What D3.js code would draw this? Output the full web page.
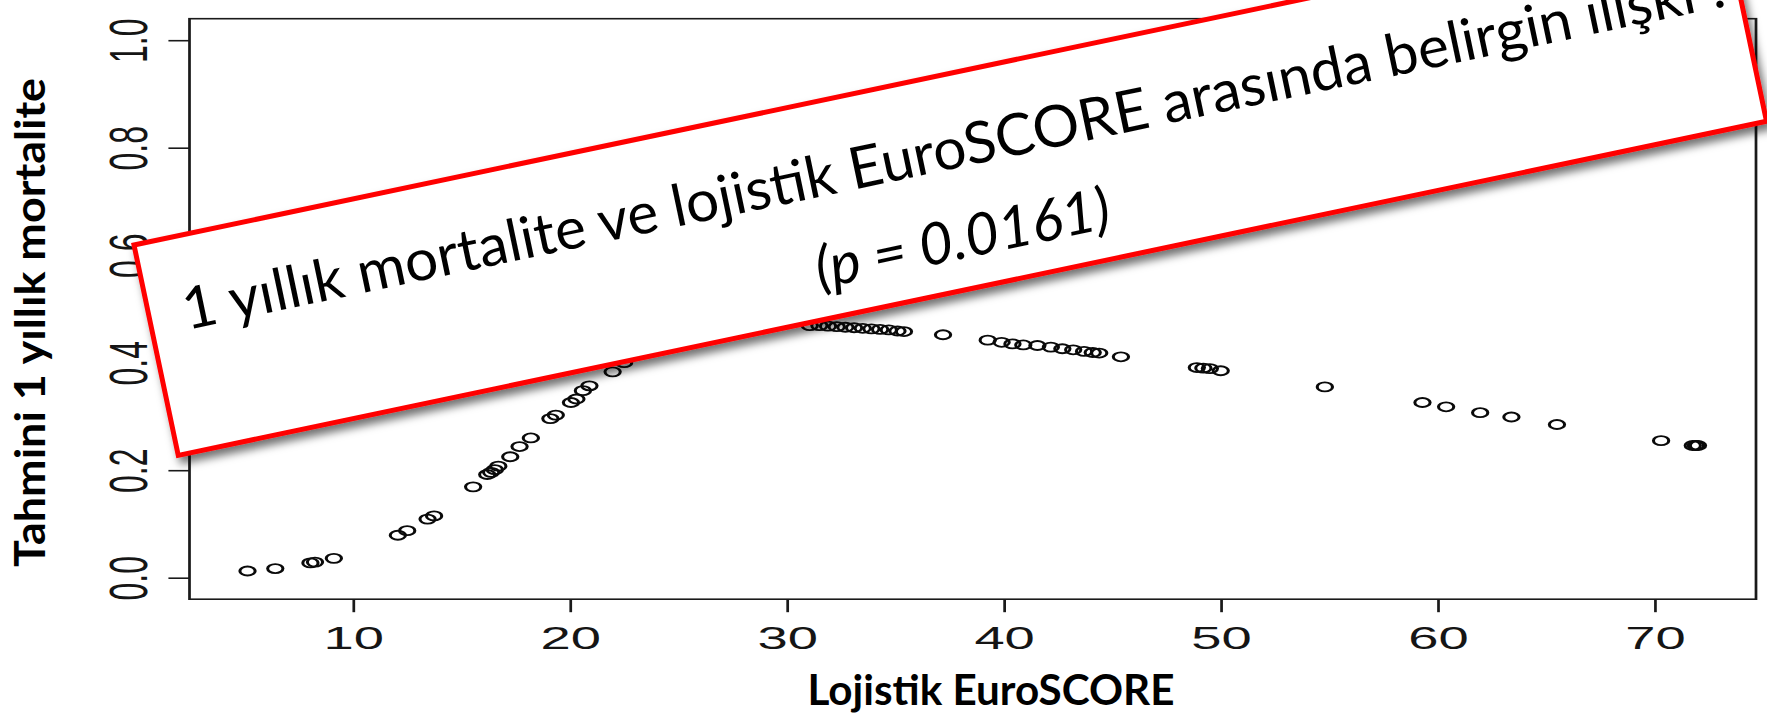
<!DOCTYPE html>
<html>
<head>
  <meta charset="utf-8">
  <title>EuroSCORE</title>
  <script src="https://cdn.jsdelivr.net/npm/d3@7"></script>
  <style>
    body { margin: 0; background: #fff; }
    svg { display: block; }
    .rplot text { font-family: "Liberation Sans", Arial, sans-serif; fill: #151515; }
    .title { font-family: Lato, "Open Sans", sans-serif; font-weight: bold; fill: #000; }
    .note text { font-family: Lato, "Open Sans", sans-serif; fill: #000; }
  </style>
</head>
<body>
<script>

  // Lojistik EuroSCORE vs predicted 1-year mortality
  var euroscore = [5.14, 6.42, 8.04, 8.25, 9.12, 12.07, 12.5, 13.44, 13.74, 15.54, 16.19, 16.37, 16.54, 16.7,
    17.25, 17.68, 18.2, 19.1, 19.35, 20.05, 20.3, 20.6, 20.9, 21.97, 22.5,
    31.06, 31.5, 31.9, 32.3, 32.7, 33.1, 33.5, 33.9, 34.3, 34.7, 35.1, 35.4, 37.2,
    39.26, 39.9, 40.4, 40.9, 41.55, 42.17, 42.7, 43.2, 43.7, 44.1, 44.4, 45.4,
    48.9, 49.2, 49.5, 50.0, 54.8, 59.3, 60.39, 61.96, 63.4, 65.5, 70.3, 71.76, 71.9, 72.0];

  var mortality = [0.0125, 0.017, 0.0275, 0.029, 0.036, 0.079, 0.0875, 0.109, 0.115, 0.169, 0.192, 0.196, 0.201, 0.2075,
    0.225, 0.244, 0.26, 0.296, 0.3025, 0.326, 0.3325, 0.348, 0.357, 0.383, 0.40,
    0.469, 0.469, 0.468, 0.467, 0.466, 0.465, 0.464, 0.463, 0.462, 0.461, 0.459, 0.458, 0.452,
    0.442, 0.438, 0.435, 0.433, 0.432, 0.429, 0.426, 0.424, 0.421, 0.419, 0.418, 0.411,
    0.391, 0.390, 0.389, 0.385, 0.355, 0.326, 0.318, 0.307, 0.299, 0.285, 0.255, 0.246, 0.246, 0.246];

  var xTicks = [10, 20, 30, 40, 50, 60, 70];
  var yTicks = [0, 0.2, 0.4, 0.6, 0.8, 1.0];

  var xTitle = "Lojistik EuroSCORE";
  var yTitle = "Tahmini 1 yıllık mortalite";
  var noteLine1 = "1 yıllık mortalite ve lojistik EuroSCORE arasında belirgin ilişki !";
  var noteLine2 = "(p = 0.0161)";

  var W = 1767, H = 716;
  var SX = 1.7;   // the R figure was stretched sideways when pasted into the slide

  var svg = d3.select("body").append("svg")
      .attr("width", W)
      .attr("height", H);

  // R style axis limits: data range widened by 4% each side
  var xExt = d3.extent(euroscore), xPad = (xExt[1] - xExt[0]) * 0.04;
  var x = d3.scaleLinear()
      .domain([xExt[0] - xPad, xExt[1] + xPad])
      .range([189.5 / SX, 1756 / SX]);

  var y = d3.scaleLinear()
      .domain([-0.04, 1.04])
      .range([599.2, 18.7]);

  var plot = svg.append("g")
      .attr("class", "rplot")
      .attr("transform", "scale(" + SX + ",1)");

  plot.append("rect")
      .attr("x", x.range()[0])
      .attr("y", y.range()[1])
      .attr("width", x.range()[1] - x.range()[0])
      .attr("height", y.range()[0] - y.range()[1])
      .attr("fill", "none")
      .attr("stroke", "#1a1a1a")
      .attr("stroke-width", 1.6);

  var xAxis = d3.axisBottom(x)
      .tickValues(xTicks)
      .tickSize(13)
      .tickSizeOuter(0)
      .tickPadding(14)
      .tickFormat(d3.format("d"));

  plot.append("g")
      .attr("class", "x axis")
      .attr("transform", "translate(0," + y.range()[0] + ")")
      .call(xAxis)
      .call(function (g) { g.select(".domain").remove(); })
      .call(function (g) {
        g.attr("font-family", null).attr("font-size", null);
        g.selectAll("line").attr("stroke", "#1a1a1a").attr("stroke-width", 1.6);
        g.selectAll("text").attr("font-size", 32).attr("fill", "#151515");
      });

  var yAxis = d3.axisLeft(y)
      .tickValues(yTicks)
      .tickSize(12.4)
      .tickSizeOuter(0)
      .tickFormat(d3.format(".1f"));

  plot.append("g")
      .attr("class", "y axis")
      .attr("transform", "translate(" + x.range()[0] + ",0)")
      .call(yAxis)
      .call(function (g) { g.select(".domain").remove(); })
      .call(function (g) {
        g.attr("font-family", null).attr("font-size", null);
        g.selectAll("line").attr("stroke", "#1a1a1a").attr("stroke-width", 1.6);
        g.selectAll("text")
            .attr("font-size", 32)
            .attr("fill", "#151515")
            .attr("text-anchor", "middle")
            .attr("transform", "rotate(-90)")
            .attr("x", 0)
            .attr("y", -25)
            .attr("dy", 0);
      });

  plot.append("g")
      .attr("class", "points")
      .selectAll("circle")
      .data(euroscore)
      .enter().append("circle")
      .attr("cx", function (d) { return x(d); })
      .attr("cy", function (d, i) { return y(mortality[i]); })
      .attr("r", 4.5)
      .attr("fill", "none")
      .attr("stroke", "#0a0a0a")
      .attr("stroke-width", 1.8);

  // axis titles (slide text, not stretched)
  svg.append("text")
      .attr("class", "title")
      .attr("x", 991)
      .attr("y", 705)
      .attr("text-anchor", "middle")
      .attr("font-size", 42)
      .attr("textLength", 367)
      .attr("lengthAdjust", "spacingAndGlyphs")
      .text(xTitle);

  svg.append("text")
      .attr("class", "title")
      .attr("transform", "translate(45,322.5) rotate(-90)")
      .attr("text-anchor", "middle")
      .attr("font-size", 42)
      .attr("textLength", 489)
      .attr("lengthAdjust", "spacingAndGlyphs")
      .text(yTitle);

  // red call-out box laid over the plot
  var defs = svg.append("defs");
  defs.append("filter")
      .attr("id", "shadow")
      .attr("x", "-5%").attr("y", "-20%")
      .attr("width", "110%").attr("height", "140%")
      .append("feDropShadow")
      .attr("dx", 4)
      .attr("dy", 6)
      .attr("stdDeviation", 4)
      .attr("flood-color", "#000")
      .attr("flood-opacity", 0.55);

  var note = svg.append("g")
      .attr("class", "note")
      .attr("filter", "url(#shadow)")
      .append("g")
      .attr("transform", "translate(134,245) rotate(-11.88)");

  note.append("rect")
      .attr("width", 1623)
      .attr("height", 215)
      .attr("fill", "#fff")
      .attr("stroke", "#ff0000")
      .attr("stroke-width", 5);

  var noteText = svg.select(".note").append("g")
      .attr("transform", "translate(134,245) rotate(-11.88)");

  noteText.append("text")
      .attr("x", 822)
      .attr("y", 94)
      .attr("text-anchor", "middle")
      .attr("font-size", 58)
      .attr("textLength", 1575)
      .attr("lengthAdjust", "spacingAndGlyphs")
      .text(noteLine1);

  noteText.append("text")
      .attr("x", 812)
      .attr("y", 184)
      .attr("text-anchor", "middle")
      .attr("font-size", 58)
      .attr("font-style", "italic")
      .attr("textLength", 300)
      .attr("lengthAdjust", "spacingAndGlyphs")
      .text(noteLine2);

</script>
</body>
</html>
